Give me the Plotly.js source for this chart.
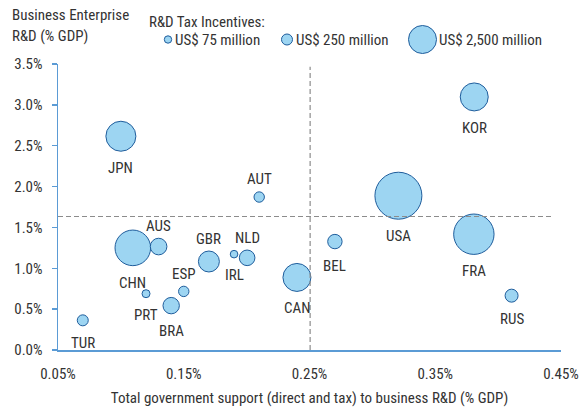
<!DOCTYPE html>
<html>
<head>
<meta charset="utf-8">
<script src="https://cdn.plot.ly/plotly-3.0.1.min.js"></script>
<style>html,body{margin:0;padding:0;background:#fff;}#chart{width:580px;height:407px;}</style>
</head>
<body>
<div id="chart"></div>
<script>
// ---- data ----
const countries    = ['JPN','AUT','CHN','AUS','GBR','IRL','NLD','ESP','PRT','BRA','TUR','CAN','KOR','USA','FRA','BEL','RUS'];
const govSupport   = [0.100,0.210,0.1095,0.130,0.170,0.190,0.2004,0.150,0.120,0.140,0.0697,0.240,0.381,0.3207,0.3807,0.2702,0.4107]; // % GDP
const berd         = [2.616,1.872,1.250,1.266,1.083,1.173,1.128,0.717,0.689,0.543,0.363,0.888,3.097,1.888,1.417,1.327,0.665];     // % GDP
const taxIncentive = [2870,345,4040,880,1400,184,776,345,204,858,386,2500,2500,7040,5200,661,539];                             // US$ million
const labelSide    = ['below','above','below','above','above','below','above','above','below','below','below','below','below','below','below','below','below'];
const legendValues = ['US$ 75 million','US$ 250 million','US$ 2,500 million'];
const yTitleLines  = ['Business Enterprise','R&D (% GDP)'];
const refGovSupport = 0.2505; // vertical reference line
const refBerd       = 1.634;  // horizontal reference line
const xTicks = [0.05,0.15,0.25,0.35,0.45];
const xTickText = xTicks.map(v => v.toFixed(2) + '%');

// ---- styles ----
const FONT = '"Roboto Condensed",Roboto,sans-serif';
const FS = 15;
const TXT = '#333333';
const FILL = '#9dd5f2';
const EDGE = '#1f5d9c';
const AXIS = '#5b9bd5';
const SIZEREF = 6.378;
const L = 58, R = 19, T = 64, B = 57, W = 580, H = 407;
const PW = W - L - R, PH = H - T - B;
const px = v => (v - L) / PW;
const py = v => (H - B - v) / PH;
const radius = v => Math.sqrt(v / (2 * SIZEREF));
const font = { family: FONT, size: FS, color: TXT };

const bubbles = {
  type: 'scatter', mode: 'markers',
  x: govSupport, y: berd, text: countries,
  marker: { size: taxIncentive, sizemode: 'area', sizeref: SIZEREF,
            color: FILL, opacity: 1, line: { color: EDGE, width: 1 } },
  cliponaxis: false, hoverinfo: 'text', showlegend: false
};

const annotations = countries.map((c, i) => {
  const r = radius(taxIncentive[i]);
  return {
    xref: 'x', yref: 'y', x: govSupport[i], y: berd[i], text: c, showarrow: false,
    xanchor: 'center', yanchor: 'middle',
    yshift: labelSide[i] === 'above' ? r + 12.5 : -(r + 17),
    font: font
  };
});

yTitleLines.forEach((t, i) => annotations.push({ xref: 'paper', yref: 'paper', x: px(10), y: py(15 + 21 * i),
  xanchor: 'left', yanchor: 'middle', text: t, showarrow: false, font: font }));
annotations.push({ xref: 'paper', yref: 'paper', x: px(147), y: py(22.5), xanchor: 'left', yanchor: 'middle',
  text: 'R&D Tax Incentives:', showarrow: false, font: font });

const legendIcon = [{ cx: 168, r: 3.7, tx: 173 }, { cx: 287, r: 5.5, tx: 294 }, { cx: 422.5, r: 14, tx: 437 }];
const shapes = [
  { type: 'line', xref: 'x', yref: 'y domain', x0: refGovSupport, x1: refGovSupport, y0: 0, y1: 0.99,
    line: { color: '#8c8c8c', width: 1.2, dash: '5px,3px' } },
  { type: 'line', xref: 'x domain', yref: 'y', x0: 0, x1: 0.985, y0: refBerd, y1: refBerd,
    line: { color: '#8c8c8c', width: 1.2, dash: '5px,3px' } }
];
legendIcon.forEach((g, i) => {
  shapes.push({ type: 'circle', xref: 'paper', yref: 'paper', xsizemode: 'pixel', ysizemode: 'pixel',
    xanchor: px(g.cx), yanchor: py(39.5), x0: -g.r, x1: g.r, y0: -g.r, y1: g.r,
    fillcolor: FILL, line: { color: EDGE, width: 1 } });
  annotations.push({ xref: 'paper', yref: 'paper', x: px(g.tx), y: py(40), xanchor: 'left', yanchor: 'middle',
    text: legendValues[i], showarrow: false, font: font });
});

const layout = {
  width: W, height: H,
  margin: { l: L, r: R, t: T, b: B },
  paper_bgcolor: '#ffffff', plot_bgcolor: '#ffffff',
  font: font,
  showlegend: false,
  xaxis: {
    range: [0.05, 0.45], tickmode: 'array', tickvals: xTicks, ticktext: xTickText,
    showgrid: false, zeroline: false, showline: true, linecolor: AXIS, linewidth: 1.5,
    ticks: '', ticklabelstandoff: 9,
    title: { text: 'Total government support (direct and tax) to business R&D (% GDP)', font: font, standoff: 13 }
  },
  yaxis: {
    range: [0, 3.5], dtick: 0.5, tickformat: '.1f', ticksuffix: '%',
    showgrid: false, zeroline: false, showline: true, linecolor: AXIS, linewidth: 1.5,
    ticks: 'outside', ticklen: 5, tickcolor: AXIS, tickwidth: 1.5, ticklabelstandoff: 6
  },
  annotations: annotations,
  shapes: shapes
};

Plotly.newPlot('chart', [bubbles], layout, { displayModeBar: false, staticPlot: true });
</script>
</body>
</html>
